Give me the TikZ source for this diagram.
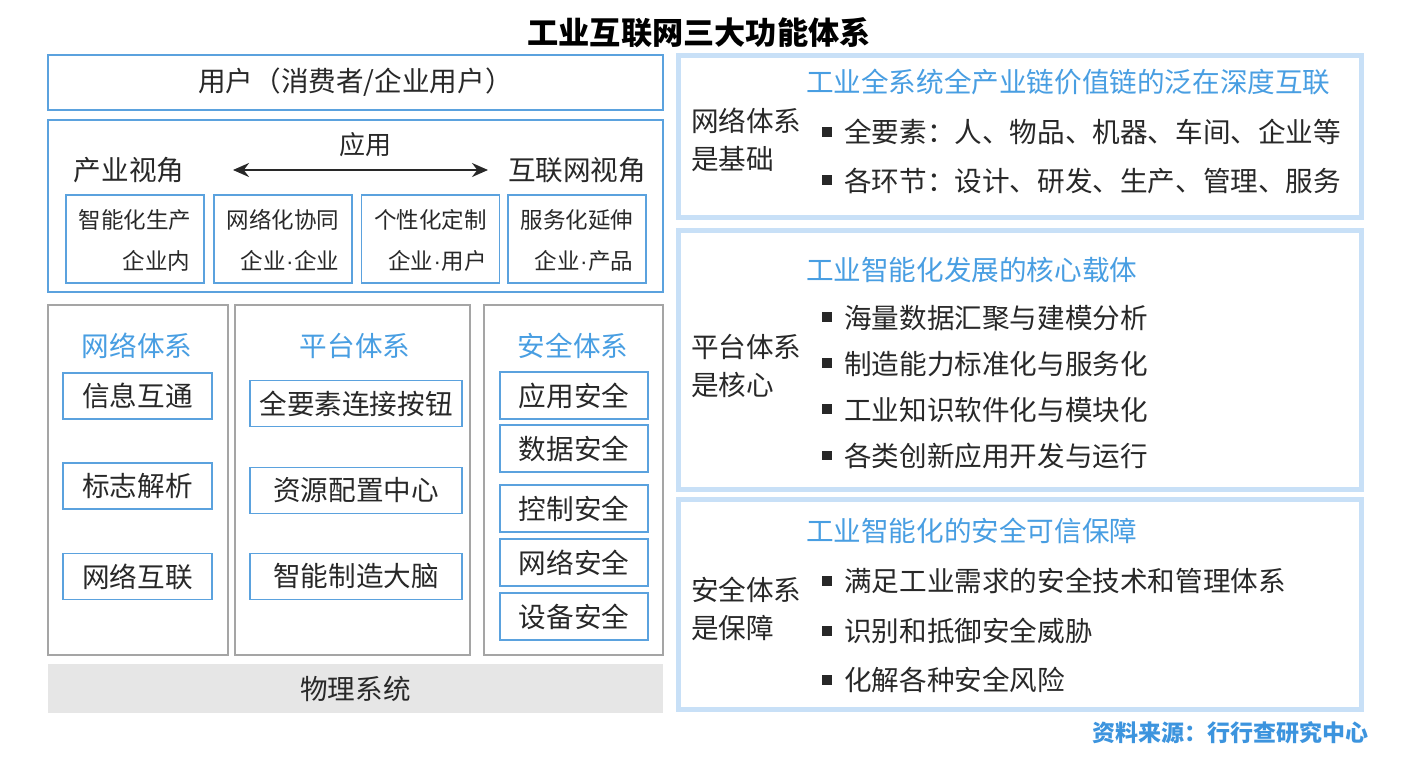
\documentclass[tikz,border=0pt]{standalone}
\usepackage{fontspec}
\setmainfont{Noto Sans CJK SC}
\newfontfamily\latinfont{Liberation Sans}
\usetikzlibrary{arrows.meta}
\definecolor{bborder}{RGB}{91,162,222}
\definecolor{btext}{RGB}{72,158,226}
\definecolor{gborder}{RGB}{165,165,165}
\definecolor{band}{RGB}{200,224,247}
\definecolor{gfill}{RGB}{230,230,230}
\definecolor{dtext}{RGB}{40,40,40}
\definecolor{srctext}{RGB}{60,148,222}
\newcommand{\sq}{\textcolor{dtext}{\rule[0.22em]{0.36em}{0.36em}}\hspace{0.45em}}
\newcommand{\mdot}{{\latinfont\kern0.5pt·\kern0.5pt}}
\begin{document}
\begin{tikzpicture}[x=1pt,y=-1pt,
  every node/.style={inner sep=0pt, outer sep=0pt, text=dtext},
  tbig/.style={font=\fontsize{27.6}{33}\selectfont},
  tsub/.style={font=\fontsize{22.5}{27}\selectfont},
  bluebox/.style={draw=bborder, line width=1.6pt, fill=white},
  graybox/.style={draw=gborder, line width=1.6pt, fill=white},
  panel/.style={draw=band, line width=5pt, fill=white},
  coltitle/.style={tbig, text=btext},
  headline/.style={tbig, text=btext, anchor=west},
  bul/.style={tbig, anchor=west},
  lab/.style={font=\fontsize{27.6}{38}\selectfont, anchor=west, align=left},
]
\fill[white] (0,0) rectangle (1413,758);
\useasboundingbox (0,0) rectangle (1413,758);

% title
\node[font=\fontsize{31.2}{36}\selectfont\bfseries, text=black] (title) at (699,33) {工业互联网三大功能体系};

% user box
\node[bluebox, minimum width=615pt, minimum height=55pt, font=\fontsize{27.6}{32}\selectfont] (user) at (355.5,82.5) {用户（消费者/企业用户）};

% application box
\node[bluebox, minimum width=615pt, minimum height=172pt] (app) at (355.5,206) {};
\node[font=\fontsize{26}{30}\selectfont] (yy) at (365,145) {应用};
\node[tbig] (cy) at (129,170) {产业视角};
\node[tbig] (hl) at (577,170) {互联网视角};
\coordinate (al) at (233,170);
\coordinate (ar) at (488,170);
\draw[dtext, line width=2pt, {Stealth[length=16pt,width=14pt]}-{Stealth[length=16pt,width=14pt]}] (al) -- (ar);

\node[bluebox, minimum width=138pt, minimum height=88pt] (s1) at (135,239) {};
\node[bluebox, minimum width=138pt, minimum height=88pt] (s2) at (283,239) {};
\node[bluebox, minimum width=138pt, minimum height=88pt] (s3) at (430.5,239) {};
\node[bluebox, minimum width=138pt, minimum height=88pt] (s4) at (577,239) {};
\node[tsub] (s1a) at (135,220) {智能化生产};
\node[tsub] (s2a) at (283,220) {网络化协同};
\node[tsub] (s3a) at (430.5,220) {个性化定制};
\node[tsub] (s4a) at (577,220) {服务化延伸};
\node[tsub, anchor=east] (s1b) at ([xshift=-14pt]s1.east |- 0,261) {企业内};
\node[tsub, anchor=east] (s2b) at ([xshift=-13pt]s2.east |- 0,261) {企业\mdot 企业};
\node[tsub, anchor=east] (s3b) at ([xshift=-13pt]s3.east |- 0,261) {企业\mdot 用户};
\node[tsub, anchor=east] (s4b) at ([xshift=-13pt]s4.east |- 0,261) {企业\mdot 产品};

% three columns
\node[graybox, minimum width=180pt, minimum height=350pt] (c1) at (138,480) {};
\node[graybox, minimum width=235pt, minimum height=350pt] (c2) at (352.5,480) {};
\node[graybox, minimum width=179pt, minimum height=350pt] (c3) at (573.5,480) {};
\node[coltitle] (c1t) at (137,346) {网络体系};
\node[coltitle] (c2t) at (355,346) {平台体系};
\node[coltitle] (c3t) at (573,346) {安全体系};

\node[bluebox, tbig, minimum width=149pt, minimum height=46pt] (n1) at (137.5,396) {信息互通};
\node[bluebox, tbig, minimum width=149pt, minimum height=46pt] (n2) at (137.5,486) {标志解析};
\node[bluebox, tbig, minimum width=149pt, minimum height=46pt] (n3) at (137.5,576.5) {网络互联};

\node[bluebox, tbig, minimum width=212pt, minimum height=46pt] (p1) at (356,403.5) {全要素连接按钮};
\node[bluebox, tbig, minimum width=212pt, minimum height=46pt] (p2) at (356,490.5) {资源配置中心};
\node[bluebox, tbig, minimum width=212pt, minimum height=46pt] (p3) at (356,576.5) {智能制造大脑};

\node[bluebox, tbig, minimum width=148pt, minimum height=47pt] (a1) at (574,395.5) {应用安全};
\node[bluebox, tbig, minimum width=148pt, minimum height=47pt] (a2) at (574,448.5) {数据安全};
\node[bluebox, tbig, minimum width=148pt, minimum height=47pt] (a3) at (574,508.5) {控制安全};
\node[bluebox, tbig, minimum width=148pt, minimum height=47pt] (a4) at (574,562.5) {网络安全};
\node[bluebox, tbig, minimum width=148pt, minimum height=47pt] (a5) at (574,616.5) {设备安全};

% physical system
\node[fill=gfill, minimum width=615pt, minimum height=49pt, tbig] (phys) at (355.5,688.5) {物理系统};

% right panels
\node[panel, minimum width=683pt, minimum height=162pt] (r1) at (1020,136.5) {};
\node[panel, minimum width=683pt, minimum height=259pt] (r2) at (1020,360) {};
\node[panel, minimum width=683pt, minimum height=210pt] (r3) at (1020,604.5) {};

\node[headline] (r1h) at (806,82) {工业全系统全产业链价值链的泛在深度互联};
\node[lab] (r1l) at (691,139.5) {网络体系\\是基础};
\node[bul] (r1b1) at (822,132) {\sq 全要素：人、物品、机器、车间、企业等};
\node[bul] (r1b2) at (822,181) {\sq 各环节：设计、研发、生产、管理、服务};

\node[headline] (r2h) at (806,270) {工业智能化发展的核心载体};
\node[lab] (r2l) at (691,365.5) {平台体系\\是核心};
\node[bul] (r2b1) at (822,318) {\sq 海量数据汇聚与建模分析};
\node[bul] (r2b2) at (822,364) {\sq 制造能力标准化与服务化};
\node[bul] (r2b3) at (822,410) {\sq 工业知识软件化与模块化};
\node[bul] (r2b4) at (822,456) {\sq 各类创新应用开发与运行};

\node[headline] (r3h) at (806,531) {工业智能化的安全可信保障};
\node[lab] (r3l) at (691,609) {安全体系\\是保障};
\node[bul] (r3b1) at (822,581) {\sq 满足工业需求的安全技术和管理体系};
\node[bul] (r3b2) at (822,631) {\sq 识别和抵御安全威胁};
\node[bul] (r3b3) at (822,680) {\sq 化解各种安全风险};

% source
\node[anchor=east, font=\fontsize{23}{27}\selectfont\bfseries, text=srctext] (src) at (1368,733) {资料来源：行行查研究中心};
\end{tikzpicture}
\end{document}
